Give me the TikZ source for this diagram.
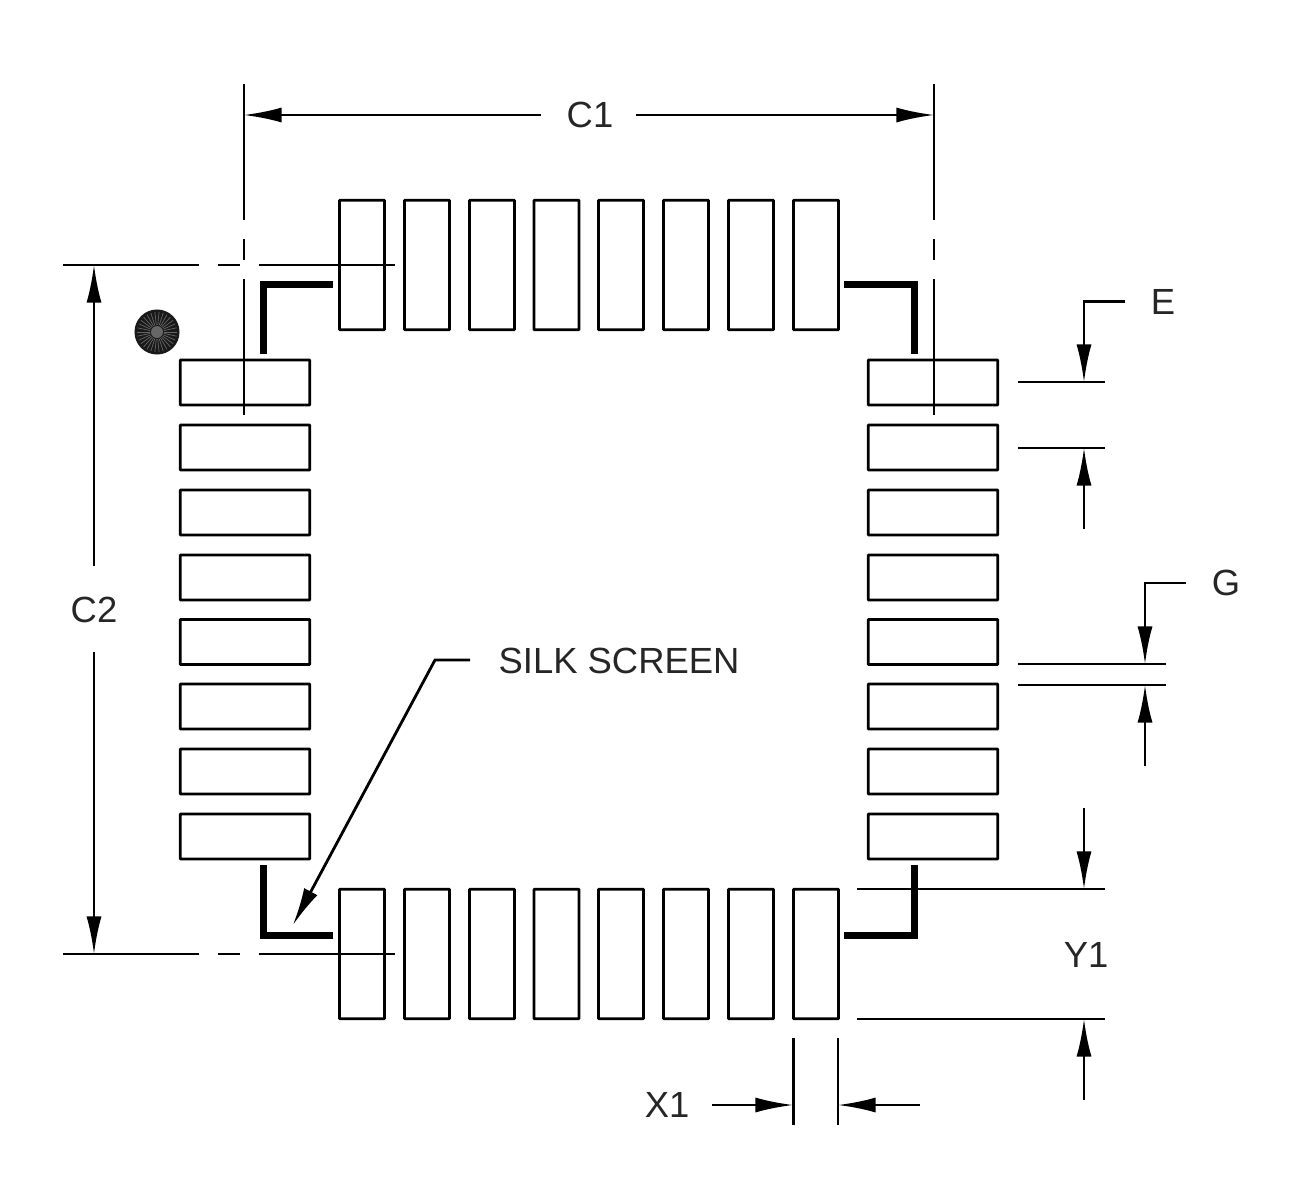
\documentclass[tikz,border=0pt]{standalone}
\usepackage{fontspec}
\setmainfont{Liberation Sans}
\usetikzlibrary{arrows.meta}
\tikzset{
  padh/.style={draw,rectangle,inner sep=0pt,minimum width=1.295cm,minimum height=0.45cm,line width=0.8pt,rounded corners=0.2pt},
  padv/.style={draw,rectangle,inner sep=0pt,minimum width=0.45cm,minimum height=1.295cm,line width=0.8pt,rounded corners=0.2pt},
  dimline/.style={line width=0.8pt},
  dimarrow/.style={line width=0.8pt,shorten >=-0.025cm,-{Latex[length=0.38cm,width=0.15cm]}},
  silk/.style={line width=0.07cm,miter limit=10},
  lbl/.style={inner sep=0pt,font=\fontsize{10.35pt}{12pt}\selectfont,text=black!85}
}
\begin{document}
\begin{tikzpicture}[x=0.01cm,y=-0.01cm]
\useasboundingbox[fill=white] (0,0) rectangle (1300,1200);
% pads
\foreach \i/\c in {1/362,2/427,3/492,4/556.5,5/621,6/686,7/751,8/816}{
  \node[padv] (T\i) at (\c,265) {};
  \node[padv] (B\i) at (\c,954) {};
}
\foreach \i/\c in {1/382.5,2/447.5,3/512.5,4/577.5,5/642,6/706.5,7/771.5,8/836.5}{
  \node[padh] (L\i) at (245,\c) {};
  \node[padh] (R\i) at (933,\c) {};
}
% silk screen corners
\coordinate (s1a) at (333,284.5); \coordinate (s1b) at (263.5,284.5); \coordinate (s1c) at (263.5,354);
\coordinate (s2a) at (844,284.5); \coordinate (s2b) at (914.5,284.5); \coordinate (s2c) at (914.5,354);
\coordinate (s3a) at (263.5,865); \coordinate (s3b) at (263.5,935); \coordinate (s3c) at (333,935);
\coordinate (s4a) at (914.5,865); \coordinate (s4b) at (914.5,935); \coordinate (s4c) at (844,935);
\draw[silk] (s1a) -- (s1b) -- (s1c);
\draw[silk] (s2a) -- (s2b) -- (s2c);
\draw[silk] (s3a) -- (s3b) -- (s3c);
\draw[silk] (s4a) -- (s4b) -- (s4c);
% pin-one dot
\node[circle,fill=black!90,inner sep=0pt,minimum size=0.45cm] (dot) at (157,332) {};
\foreach \a in {0,12,...,348}{
  \draw[black!60,line width=0.2pt] (dot.center) ++(\a:0.07cm) -- ++(\a:0.13cm);
}
\node[circle,fill=black!60,inner sep=0pt,minimum size=0.12cm] (dotc) at (157,332) {};
% centre lines
\coordinate (v1a) at (244,84); \coordinate (v1b) at (244,220);
\coordinate (v1c) at (244,239); \coordinate (v1d) at (244,260);
\coordinate (v1e) at (244,279); \coordinate (v1f) at (244,415);
\draw[dimline] (v1a) -- (v1b) (v1c) -- (v1d) (v1e) -- (v1f);
\coordinate (v2a) at (934,84); \coordinate (v2b) at (934,220);
\coordinate (v2c) at (934,239); \coordinate (v2d) at (934,260);
\coordinate (v2e) at (934,279); \coordinate (v2f) at (934,415);
\draw[dimline] (v2a) -- (v2b) (v2c) -- (v2d) (v2e) -- (v2f);
\coordinate (h1a) at (63,265); \coordinate (h1b) at (199,265);
\coordinate (h1c) at (218,265); \coordinate (h1d) at (240,265);
\coordinate (h1e) at (259,265); \coordinate (h1f) at (395,265);
\draw[dimline] (h1a) -- (h1b) (h1c) -- (h1d) (h1e) -- (h1f);
\coordinate (h2a) at (63,954); \coordinate (h2b) at (199,954);
\coordinate (h2c) at (218,954); \coordinate (h2d) at (240,954);
\coordinate (h2e) at (259,954); \coordinate (h2f) at (395,954);
\draw[dimline] (h2a) -- (h2b) (h2c) -- (h2d) (h2e) -- (h2f);
% C1
\node[lbl] (C1) at (590,115) {C1};
\coordinate (c1l) at (541,115); \coordinate (c1lt) at (246,115);
\coordinate (c1r) at (636,115); \coordinate (c1rt) at (932,115);
\draw[dimarrow] (c1l) -- (c1lt);
\draw[dimarrow] (c1r) -- (c1rt);
% C2
\node[lbl] (C2) at (94,610) {C2};
\coordinate (c2u) at (94,566); \coordinate (c2ut) at (94,267);
\coordinate (c2d) at (94,652); \coordinate (c2dt) at (94,952);
\draw[dimarrow] (c2u) -- (c2ut);
\draw[dimarrow] (c2d) -- (c2dt);
% E
\node[lbl] (E) at (1163,302) {E};
\coordinate (e0) at (1125,301.5); \coordinate (e1) at (1084,301.5); \coordinate (e2) at (1084,380);
\coordinate (e3) at (1084,529); \coordinate (e4) at (1084,450);
\coordinate (e5) at (1018,382); \coordinate (e6) at (1105,382);
\coordinate (e7) at (1018,448); \coordinate (e8) at (1105,448);
\draw[dimarrow] (e0) -- (e1) -- (e2);
\draw[dimarrow] (e3) -- (e4);
\draw[dimline] (e5) -- (e6) (e7) -- (e8);
% G
\node[lbl] (G) at (1226,583) {G};
\coordinate (g0) at (1186,583); \coordinate (g1) at (1145,583); \coordinate (g2) at (1145,662);
\coordinate (g3) at (1145,766); \coordinate (g4) at (1145,687);
\coordinate (g5) at (1018,664); \coordinate (g6) at (1166,664);
\coordinate (g7) at (1018,685); \coordinate (g8) at (1166,685);
\draw[dimarrow] (g0) -- (g1) -- (g2);
\draw[dimarrow] (g3) -- (g4);
\draw[dimline] (g5) -- (g6) (g7) -- (g8);
% Y1
\node[lbl] (Y1) at (1086,955) {Y1};
\coordinate (y1) at (1084,808); \coordinate (y2) at (1084,887);
\coordinate (y3) at (1084,1100); \coordinate (y4) at (1084,1021);
\coordinate (y5) at (857,889); \coordinate (y6) at (1105,889);
\coordinate (y7) at (857,1019); \coordinate (y8) at (1105,1019);
\draw[dimarrow] (y1) -- (y2);
\draw[dimarrow] (y3) -- (y4);
\draw[dimline] (y5) -- (y6) (y7) -- (y8);
% X1
\node[lbl] (X1) at (667,1105) {X1};
\coordinate (x1) at (712,1105); \coordinate (x2) at (791,1105);
\coordinate (x3) at (920,1105); \coordinate (x4) at (840,1105);
\coordinate (x5) at (793.5,1038); \coordinate (x6) at (793.5,1125);
\coordinate (x7) at (838,1038); \coordinate (x8) at (838,1125);
\draw[dimarrow] (x1) -- (x2);
\draw[dimarrow] (x3) -- (x4);
\draw[dimline] (x5) -- (x6) (x7) -- (x8);
% silk screen leader
\node[lbl,anchor=west] (SS) at (498,661) {SILK SCREEN};
\coordinate (l0) at (470,660); \coordinate (l1) at (435,660); \coordinate (l2) at (294,923);
\draw[dimarrow] (l0) -- (l1) -- (l2);
\end{tikzpicture}
\end{document}
